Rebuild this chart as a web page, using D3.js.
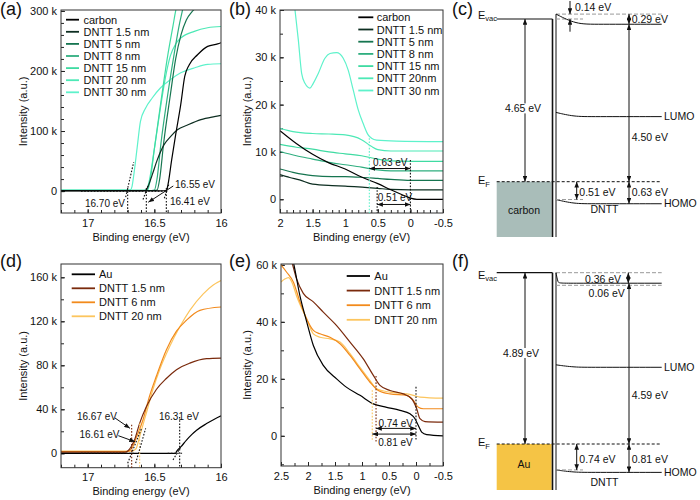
<!DOCTYPE html>
<html><head><meta charset="utf-8">
<script src="https://cdn.jsdelivr.net/npm/d3@7/dist/d3.min.js"></script>
<style>
body{margin:0;background:#fff;}
svg text{font-family:"Liberation Sans", Arial, Helvetica, sans-serif;}
</style></head>
<body><svg id="fig" width="700" height="500"></svg>
<script>
const FONT = '"Liberation Sans", Arial, Helvetica, sans-serif';
// ---------------- data ----------------
// (a) SECO, carbon substrate  (intensity in k counts)
const aNames = ["carbon","DNTT 1.5 nm","DNTT 5 nm","DNTT 8 nm","DNTT 15 nm","DNTT 20 nm","DNTT 30 nm"];
const greenColors = ["#000000","#0d2e21","#167550","#2fae7f","#3fdba2","#4de9b6","#5ef2cb"];
const aEnergy = [
 [17.2,16.45,16.41,16.398,16.37,16.34,16.302,16.272,16.239,16.176,16.10,16.025,16.0],
 [17.2,16.60,16.566,16.553,16.516,16.478,16.428,16.377,16.327,16.251,16.151,16.05,16.0],
 [17.2,16.50,16.48,16.46,16.43,16.38,16.34,16.30,16.26,16.22,16.19],
 [17.2,16.52,16.50,16.48,16.45,16.40,16.35,16.31,16.29,16.28],
 [17.2,16.57,16.55,16.53,16.50,16.45,16.40,16.36,16.34,16.33],
 [17.2,16.58,16.56,16.54,16.50,16.46,16.42,16.38,16.34,16.30,16.20,16.10,16.0],
 [17.2,16.70,16.68,16.667,16.654,16.629,16.604,16.566,16.516,16.453,16.377,16.302,16.201,16.10,16.0]
];
const aIntensity = [
 [0.5,0.5,1,10.5,52,94,144,191,210,227,241,245,247],
 [0.8,0.8,1,5,27,52,77,91,102,110,119,124,126],
 [1,1,1.5,20,80,160,220,260,285,298,305],
 [1,1,1.5,20,80,160,230,280,300,310],
 [1.2,1.2,2,20,70,150,225,275,300,310],
 [1.3,1.3,2,15,70,130,185,225,245,255,266,272,274],
 [1.5,1.5,2,8,27,72,116,138,155,172,186,197,205,211,212]
];
const aCutoffs = [16.70, 16.56, 16.41];
const aCutoffLabels = ["16.70 eV","16.55 eV","16.41 eV"];

// (b) valence region, carbon substrate
const bNames = ["carbon","DNTT 1.5 nm","DNTT 5 nm","DNTT 8 nm","DNTT 15 nm","DNTT 20nm","DNTT 30 nm"];
const bEnergy = [
 [2.0,1.75,1.5,1.25,1.0,0.75,0.5,0.3,0.1,0.0,-0.1,-0.5],
 [2.0,1.85,1.7,1.5,1.2,1.0,0.7,0.5,0.3,0.0,-0.5],
 [2.0,1.8,1.5,1.2,1.0,0.7,0.5,0.3,0.0,-0.5],
 [2.0,1.75,1.5,1.25,1.0,0.75,0.5,0.3,0.0,-0.5],
 [2.0,1.75,1.5,1.25,1.0,0.75,0.5,0.3,0.0,-0.5],
 [2.0,1.8,1.5,1.25,1.0,0.75,0.6,0.5,0.3,0.0,-0.5],
 [1.85,1.77,1.719,1.668,1.617,1.541,1.49,1.413,1.311,1.234,1.132,1.03,0.954,0.877,0.80,0.724,0.648,0.596,0.52,0.214,-0.5]
];
const bIntensity = [
 [14.5,11.8,9.5,7.7,6.4,4.7,3.3,2.0,0.8,0.25,0,0],
 [5.2,4.6,4.1,3.2,2.9,2.8,2.5,2.3,2.1,2.0,2.0],
 [6.4,5.7,5.0,4.8,4.8,4.6,4.4,4.2,4.0,4.0],
 [10.1,9.2,8.5,7.8,7.3,6.8,6.2,6.0,6.0,6.0],
 [11.6,11.0,10.6,10.0,9.6,9.2,8.5,8.1,8.0,8.0],
 [15.0,14.3,13.9,13.8,13.6,12.6,11.2,10.5,10.2,10.2,10.2],
 [48,40,33.7,26.6,24.5,23.5,24.5,26.6,29.8,30.8,31.0,29.8,27.3,23.1,18.9,16.0,13.6,12.9,12.5,12.3,12.2]
];
const bOnsets = [0.63, 0.51];
const bOnsetLabels = ["0.63 eV","0.51 eV"];

// (d) SECO, Au substrate
const dNames = ["Au","DNTT 1.5 nm","DNTT 6 nm","DNTT 20 nm"];
const orangeColors = ["#000000","#7a2a0c","#f28a1c","#fcc55e"];
const dEnergy = [
 [17.2,16.34,16.334,16.30,16.259,16.22,16.183,16.108,16.05,16.0],
 [17.2,16.72,16.70,16.674,16.649,16.611,16.561,16.485,16.41,16.334,16.234,16.108,16.0],
 [17.2,16.70,16.68,16.662,16.636,16.586,16.536,16.485,16.41,16.334,16.259,16.158,16.0],
 [17.2,16.67,16.65,16.636,16.611,16.561,16.511,16.46,16.385,16.309,16.234,16.133,16.058,16.0]
];
const dIntensity = [
 [0,0,1.5,6,12,17,21,27,31,34],
 [1,1,2,6,12,27,42,58,68,76,82,86,86.5],
 [1.5,1.5,3,6,14,30,52,70,94,111,121,130,133],
 [2,2,3,4.5,15,36,58,76,97,115,130,145,153,157]
];
const dCutoffs = [16.67, 16.61, 16.31];
const dCutoffLabels = ["16.67 eV","16.61 eV","16.31 eV"];

// (e) valence region, Au substrate
const eEnergy = [
 [2.55,2.272,2.148,2.024,1.901,1.717,1.47,1.284,1.037,0.79,0.543,0.296,0.111,0.019,-0.043,-0.105,-0.198,-0.5],
 [2.55,2.3,2.21,2.087,1.901,1.717,1.47,1.222,0.976,0.79,0.667,0.481,0.235,0.08,-0.013,-0.074,-0.167,-0.5],
 [2.5,2.395,2.272,2.148,2.024,1.901,1.778,1.593,1.407,1.222,1.037,0.852,0.698,0.481,0.172,0.049,-0.043,-0.135,-0.5],
 [2.5,2.43,2.36,2.30,2.21,2.024,1.901,1.778,1.593,1.407,1.222,1.037,0.852,0.729,0.481,0.172,0.049,-0.074,-0.5]
];
const eIntensity = [
 [72,61,49,40,31.7,24.7,20,17,14.2,11.2,10,8.9,7.7,6,3.6,1.3,0.4,0],
 [72,61,55,50,47,43.4,38.7,32.9,27,21.2,17.7,15.9,14.7,13,9.5,6,5,4.8],
 [60,57.4,54,47,41,37,35.8,34.6,32.3,28.2,23.5,18.8,15.9,14.7,14.2,12.4,10,9.5,9.5],
 [54,55,55.5,54,49,41,35.8,34.6,34,32.9,28.8,24,19.4,16.5,15.3,14.7,14.2,13.6,13.2]
];
const eOnsets = [0.74, 0.81];
const eOnsetLabels = ["0.74 eV","0.81 eV"];

// (c),(f) energy diagrams: [Evac(substrate), vac@interface, vac bulk, LUMO int, LUMO bulk, HOMO int, HOMO bulk] relative to EF (eV)
const cLevels = [4.65, 4.79, 4.50, 1.98, 1.86, -0.51, -0.63];
const cLabels = ["0.14 eV","0.29 eV","4.65 eV","4.50 eV","0.51 eV","0.63 eV"];
const fLevels = [4.89, 4.89, 4.59, 2.26, 2.19, -0.74, -0.81];
const fLabels = ["0.36 eV","0.06 eV","4.89 eV","4.59 eV","0.74 eV","0.81 eV"];
const fVacDashed = 4.53;

// ---------------- drawing ----------------
const svg = d3.select("#fig");
const defs = svg.append("defs");
defs.append("marker").attr("id","ah").attr("viewBox","0 0 10 8").attr("refX",10).attr("refY",4)
  .attr("markerWidth",6).attr("markerHeight",4.6).attr("markerUnits","userSpaceOnUse")
  .attr("orient","auto-start-reverse")
  .append("path").attr("d","M0,0L10,4L0,8Z").attr("fill","#111");

function text(g, x, y, s, size, anchor, extra){
  const t = g.append("text").attr("x",x).attr("y",y).attr("font-size",size)
    .attr("text-anchor",anchor||"start").attr("fill","#111").text(s);
  return t;
}
function dotted(g,x1,y1,x2,y2,color){
  g.append("line").attr("x1",x1).attr("y1",y1).attr("x2",x2).attr("y2",y2)
   .attr("stroke",color||"#111").attr("stroke-width",1.1).attr("stroke-dasharray","1.6,1.6");
}
function arrow(g,x1,y1,x2,y2,both){
  const l = g.append("line").attr("x1",x1).attr("y1",y1).attr("x2",x2).attr("y2",y2)
   .attr("stroke","#111").attr("stroke-width",1).attr("marker-end","url(#ah)");
  if(both) l.attr("marker-start","url(#ah)");
}
const kFmt = d => d===0 ? "0" : d + " k";

function panel(c){
  const x = d3.scaleLinear().domain(c.xDomain).range([c.left,c.right]);
  const y = d3.scaleLinear().domain(c.yDomain).range([c.bottom,c.top]);
  const g = svg.append("g");
  defs.append("clipPath").attr("id","clip-"+c.id).append("rect")
    .attr("x",c.left).attr("y",c.top).attr("width",c.right-c.left).attr("height",c.bottom-c.top);
  const st = a => { a.select(".domain").remove(); a.attr("font-size",11).attr("font-family",FONT).attr("color","#222"); a.selectAll("text").attr("fill","#111"); };
  g.append("g").attr("transform",`translate(0,${c.bottom})`)
    .call(d3.axisBottom(x).tickValues(c.xMinor).tickFormat("").tickSizeInner(-3).tickSizeOuter(0)).call(st);
  g.append("g").attr("transform",`translate(0,${c.bottom})`)
    .call(d3.axisBottom(x).tickValues(c.xMajor).tickFormat(d=>String(d)).tickSizeInner(-4).tickSizeOuter(0).tickPadding(6)).call(st);
  g.append("g").attr("transform",`translate(${c.left},0)`)
    .call(d3.axisLeft(y).tickValues(c.yMinor).tickFormat("").tickSizeInner(-3).tickSizeOuter(0)).call(st);
  g.append("g").attr("transform",`translate(${c.left},0)`)
    .call(d3.axisLeft(y).tickValues(c.yMajor).tickFormat(kFmt).tickSizeInner(-4).tickSizeOuter(0).tickPadding(4)).call(st);
  const plot = g.append("g").attr("clip-path",`url(#clip-${c.id})`);
  const line = d3.line().x(d=>x(d[0])).y(d=>y(d[1])).curve(d3.curveMonotoneX);
  for(let i=c.energy.length-1;i>=0;i--){
    plot.append("path").attr("d",line(d3.zip(c.energy[i],c.intensity[i])))
      .attr("fill","none").attr("stroke",c.colors[i]).attr("stroke-width",1.2);
  }
  g.append("rect").attr("x",c.left).attr("y",c.top).attr("width",c.right-c.left).attr("height",c.bottom-c.top)
    .attr("fill","none").attr("stroke","#333").attr("stroke-width",1);
  // legend
  c.names.forEach((n,i)=>{
    const yy = c.leg.y + i*c.leg.dy;
    g.append("line").attr("x1",c.leg.x1).attr("x2",c.leg.x2).attr("y1",yy).attr("y2",yy)
      .attr("stroke",c.colors[i]).attr("stroke-width",1.8);
    text(g, c.leg.tx, yy+4, n, 11);
  });
  // axis titles
  text(g,(c.left+c.right)/2, c.bottom+27.5, "Binding energy (eV)", 11, "middle");
  g.append("text").attr("transform",`translate(${c.ylabX},${(c.top+c.bottom)/2}) rotate(-90)`)
    .attr("text-anchor","middle").attr("font-size",11).attr("fill","#111").text("Intensity (a.u.)");
  text(g, c.tagX, c.tagY, c.tag, 18);
  return {x,y,g};
}

// ----- (a)
const A = panel({id:"a",left:61,right:221,top:10,bottom:213,xDomain:[17.2,16.0],yDomain:[-36.5,301.5],
  xMajor:[17,16.5,16],xMinor:d3.range(0,13).map(i=>16+i*0.1),yMajor:[0,100,200,300],yMinor:d3.range(-20,301,20),
  energy:aEnergy,intensity:aIntensity,colors:greenColors,names:aNames,
  leg:{x1:66,x2:79,tx:83.5,y:19.7,dy:12.1},ylabX:26.5,tagX:0,tagY:15,tag:"(a)"});
{
  const {x,y,g} = A;
  dotted(g,x(17.05),y(0),x(16.40),y(0));
  aCutoffs.forEach(e=>dotted(g,x(e),y(5),x(e),y(-36.5)));
  [[16.715,-10,16.655,48],[16.585,-14,16.545,10],[16.425,-12,16.39,12]].forEach(t=>dotted(g,x(t[0]),y(t[1]),x(t[2]),y(t[3])));
  text(g,x(16.87),y(-27.3),aCutoffLabels[0],10,"middle");
  text(g,x(16.345),y(4.3),aCutoffLabels[1],10);
  text(g,x(16.383),y(-24),aCutoffLabels[2],10);
  arrow(g,x(16.358),y(8.5),x(16.545),y(-18.6),false);
}

// ----- (b)
const B = panel({id:"b",left:280,right:443,top:10,bottom:213,xDomain:[2,-0.5],yDomain:[-2.9,40],
  xMajor:[2,1.5,1,0.5,0,-0.5],xMinor:d3.range(0,26).map(i=>-0.5+i*0.1),yMajor:[0,10,20,30,40],yMinor:d3.range(0,41,5),
  energy:bEnergy,intensity:bIntensity,colors:greenColors,names:bNames,
  leg:{x1:358.3,x2:373.3,tx:376.7,y:17.3,dy:12.2},ylabX:250.5,tagX:229,tagY:15,tag:"(b)"});
{
  const {x,y,g} = B;
  dotted(g,x(bOnsets[0]),y(12.9),x(bOnsets[0]),y(-2.9),"#5ef2cb");
  dotted(g,x(0),y(8.3),x(0),y(-2.9));
  dotted(g,x(bOnsets[1]),y(2.6),x(bOnsets[1]),y(-2.9));
  arrow(g,x(bOnsets[0]),y(6.5),x(0),y(6.5),true);
  arrow(g,x(bOnsets[1]),y(-1.1),x(0),y(-1.1),true);
  text(g,x(0.308),y(7.0),bOnsetLabels[0],10,"middle");
  text(g,x(0.236),y(-0.46),bOnsetLabels[1],10,"middle");
}

// ----- (d)
const D = panel({id:"d",left:61,right:221,top:264,bottom:467.7,xDomain:[17.2,16.0],yDomain:[-13.1,172.1],
  xMajor:[17,16.5,16],xMinor:d3.range(0,13).map(i=>16+i*0.1),yMajor:[0,40,80,120,160],yMinor:d3.range(0,161,20),
  energy:dEnergy,intensity:dIntensity,colors:orangeColors,names:dNames,
  leg:{x1:71.7,x2:95,tx:99,y:274.3,dy:14},ylabX:26.5,tagX:0,tagY:267,tag:"(d)"});
{
  const {x,y,g} = D;
  dotted(g,x(17.05),y(0),x(16.65),y(0));
  dotted(g,x(16.40),y(0),x(16.28),y(0));
  dotted(g,x(dCutoffs[0]),y(26),x(dCutoffs[0]),y(-13.1),"#7a2a0c");
  dotted(g,x(dCutoffs[1]),y(27),x(dCutoffs[1]),y(-13.1),"#fcc55e");
  dotted(g,x(dCutoffs[2]),y(33),x(dCutoffs[2]),y(-13.1));
  [[16.70,-9,16.596,22.7],[16.64,-9,16.565,22.7],[16.36,-6,16.30,6]].forEach(t=>dotted(g,x(t[0]),y(t[1]),x(t[2]),y(t[3])));
  text(g,x(16.93),y(30.3),dCutoffLabels[0],10,"middle");
  text(g,x(16.911),y(13.5),dCutoffLabels[1],10,"middle");
  text(g,x(16.315),y(30.3),dCutoffLabels[2],10,"middle");
  arrow(g,x(16.795),y(32.1),x(16.683),y(22.7),false);
  arrow(g,x(16.77),y(16),x(16.645),y(10.5),false);
}

// ----- (e)
const E = panel({id:"e",left:281,right:443,top:264,bottom:466,xDomain:[2.5,-0.5],yDomain:[-10.6,60.3],
  xMajor:[2.5,2,1.5,1,0.5,0,-0.5],xMinor:d3.range(0,13).map(i=>-0.5+i*0.25),yMajor:[0,20,40,60],yMinor:d3.range(-10,61,10),
  energy:eEnergy,intensity:eIntensity,colors:orangeColors,names:dNames,
  leg:{x1:346.7,x2:370,tx:374.3,y:276,dy:14.6},ylabX:250.5,tagX:229,tagY:267,tag:"(e)"});
{
  const {x,y,g} = E;
  dotted(g,x(eOnsets[0]),y(21),x(eOnsets[0]),y(-2),"#7a2a0c");
  dotted(g,x(eOnsets[1]),y(16),x(eOnsets[1]),y(-2),"#fcc55e");
  dotted(g,x(0),y(17.2),x(0),y(-1.5));
  arrow(g,x(eOnsets[0]),y(2.6),x(0),y(2.6),true);
  arrow(g,x(eOnsets[1]),y(0.6),x(0),y(0.6),true);
  text(g,x(0.376),y(3.2),eOnsetLabels[0],10,"middle");
  text(g,x(0.38),y(-3.6),eOnsetLabels[1],10,"middle");
}

// ----- energy diagrams
function diagram(o){
  const L = o.levels;
  const y = d3.scaleLinear().domain([0,L[0]]).range([o.yEF,o.yVac]);
  const g = svg.append("g");
  const xL=496.7, xB=551.7, xI1=552.5, xI2=556, xR=661.7, xS=583;
  g.append("rect").attr("x",xL).attr("y",y(0)).attr("width",xB-xL).attr("height",o.yBottom-y(0)).attr("fill",o.fill);
  const dash = (x1,x2,v,col,da)=>g.append("line").attr("x1",x1).attr("x2",x2).attr("y1",y(v)).attr("y2",y(v))
      .attr("stroke",col).attr("stroke-width",1).attr("stroke-dasharray",da);
  dash(xL,xR,0,"#111","3,2");
  g.append("line").attr("x1",xL).attr("x2",xI1).attr("y1",y(L[0])).attr("y2",y(L[0])).attr("stroke","#111").attr("stroke-width",1.2);
  g.append("line").attr("x1",xI1).attr("x2",xI1).attr("y1",y(L[0])).attr("y2",o.yBottom).attr("stroke","#111").attr("stroke-width",1.6);
  g.append("line").attr("x1",xI2).attr("x2",xI2).attr("y1",y(L[1])).attr("y2",o.yBottom).attr("stroke","#111").attr("stroke-width",1);
  const bend = d3.line().x(d=>d[0]).y(d=>y(d[1])).curve(d3.curveBasis);
  const curve = (a,b,w)=>g.append("path").attr("d",bend([[xI2,a],[xI2+w,b],[xI2+2*w,b],[xR,b]]))
      .attr("fill","none").attr("stroke","#111").attr("stroke-width",1);
  o.extraDash(dash, {xI2,xR,xS});
  curve(L[1],L[2],o.vacW);
  curve(L[3],L[4],18);
  curve(L[5],L[6],18);
  dash(xI2,xS,L[5],"#999","4,2");
  // arrows
  arrow(g,525,y(L[0]),525,y(0),true);
  arrow(g,629,y(L[2]),629,y(0),true);
  arrow(g,576.7,y(0),576.7,y(L[5]),true);
  arrow(g,629,y(0),629,y(L[6]),true);
  o.topArrows(g,y);
  // labels
  const fs = 10.5;
  o.topText(g,y,fs);
  const wf = text(g,o.wfX,o.wfY+3.7,o.labels[2],fs,"middle");
  const bb = wf.node().getBBox();
  g.insert("rect","text").attr("x",bb.x-1).attr("y",bb.y+1).attr("width",bb.width+2).attr("height",bb.height-2).attr("fill","#fff");
  wf.raise();
  text(g,631.7,o.ieY+3.7,o.labels[3],fs);
  text(g,579.3,o.hY+3.7,o.labels[4],fs);
  text(g,631.7,o.hY+3.7,o.labels[5],fs);
  text(g,664,y(L[4])+3.7,"LUMO",fs);
  text(g,664,y(L[6])+3.7,"HOMO",fs);
  text(g,604.5,o.dnttY+3.7,"DNTT",fs,"middle");
  text(g,524,o.subY+3.7,o.sub,fs,"middle");
  const ev = text(g,478,o.evacBase,"E",11);
  ev.append("tspan").attr("font-size",7.5).attr("dy",2.5).text("vac");
  const ef = text(g,478,o.efBase,"E",11);
  ef.append("tspan").attr("font-size",7.5).attr("dy",2.5).text("F");
  text(g,452,o.tagY,o.tag,18);
}

diagram({levels:cLevels,labels:cLabels,yEF:181.7,yVac:19,yBottom:237,fill:"#a9bdb9",vacW:20,
  sub:"carbon",subY:210.5,wfX:523,wfY:108.7,ieY:137.7,hY:192.5,dnttY:209,evacBase:18.5,efBase:184.3,tag:"(c)",tagY:15,
  extraDash:(dash,p)=>{ dash(p.xI2,p.xR,cLevels[1],"#999","4,2"); dash(p.xI2,p.xS,cLevels[0],"#999","4,2"); },
  topArrows:(g,y)=>{ arrow(g,570,1,570,y(cLevels[1]),false); arrow(g,570,y(cLevels[0])+12.7,570,y(cLevels[0]),false);
                     arrow(g,629,y(cLevels[1]),629,y(cLevels[2]),true); },
  topText:(g,y,fs)=>{ text(g,575,7.5+3.7,cLabels[0],fs); text(g,631.7,19+3.7,cLabels[1],fs); }
});
diagram({levels:fLevels,labels:fLabels,yEF:444,yVac:272.7,yBottom:490,fill:"#f5c445",vacW:2,
  sub:"Au",subY:463.8,wfX:521,wfY:353.3,ieY:395.7,hY:459,dnttY:482.7,evacBase:278.5,efBase:446,tag:"(f)",tagY:267,
  extraDash:(dash,p)=>{ dash(p.xI2,p.xR,fLevels[0],"#999","4,2"); dash(p.xI2,p.xR,fVacDashed,"#999","4,2"); },
  topArrows:(g,y)=>{ arrow(g,628.3,y(fLevels[0]),628.3,y(fLevels[2]),true); },
  topText:(g,y,fs)=>{ text(g,603,279+3.7,fLabels[0],fs,"middle"); text(g,606.7,293.3+3.7,fLabels[1],fs,"middle"); }
});
</script>
</body></html>
